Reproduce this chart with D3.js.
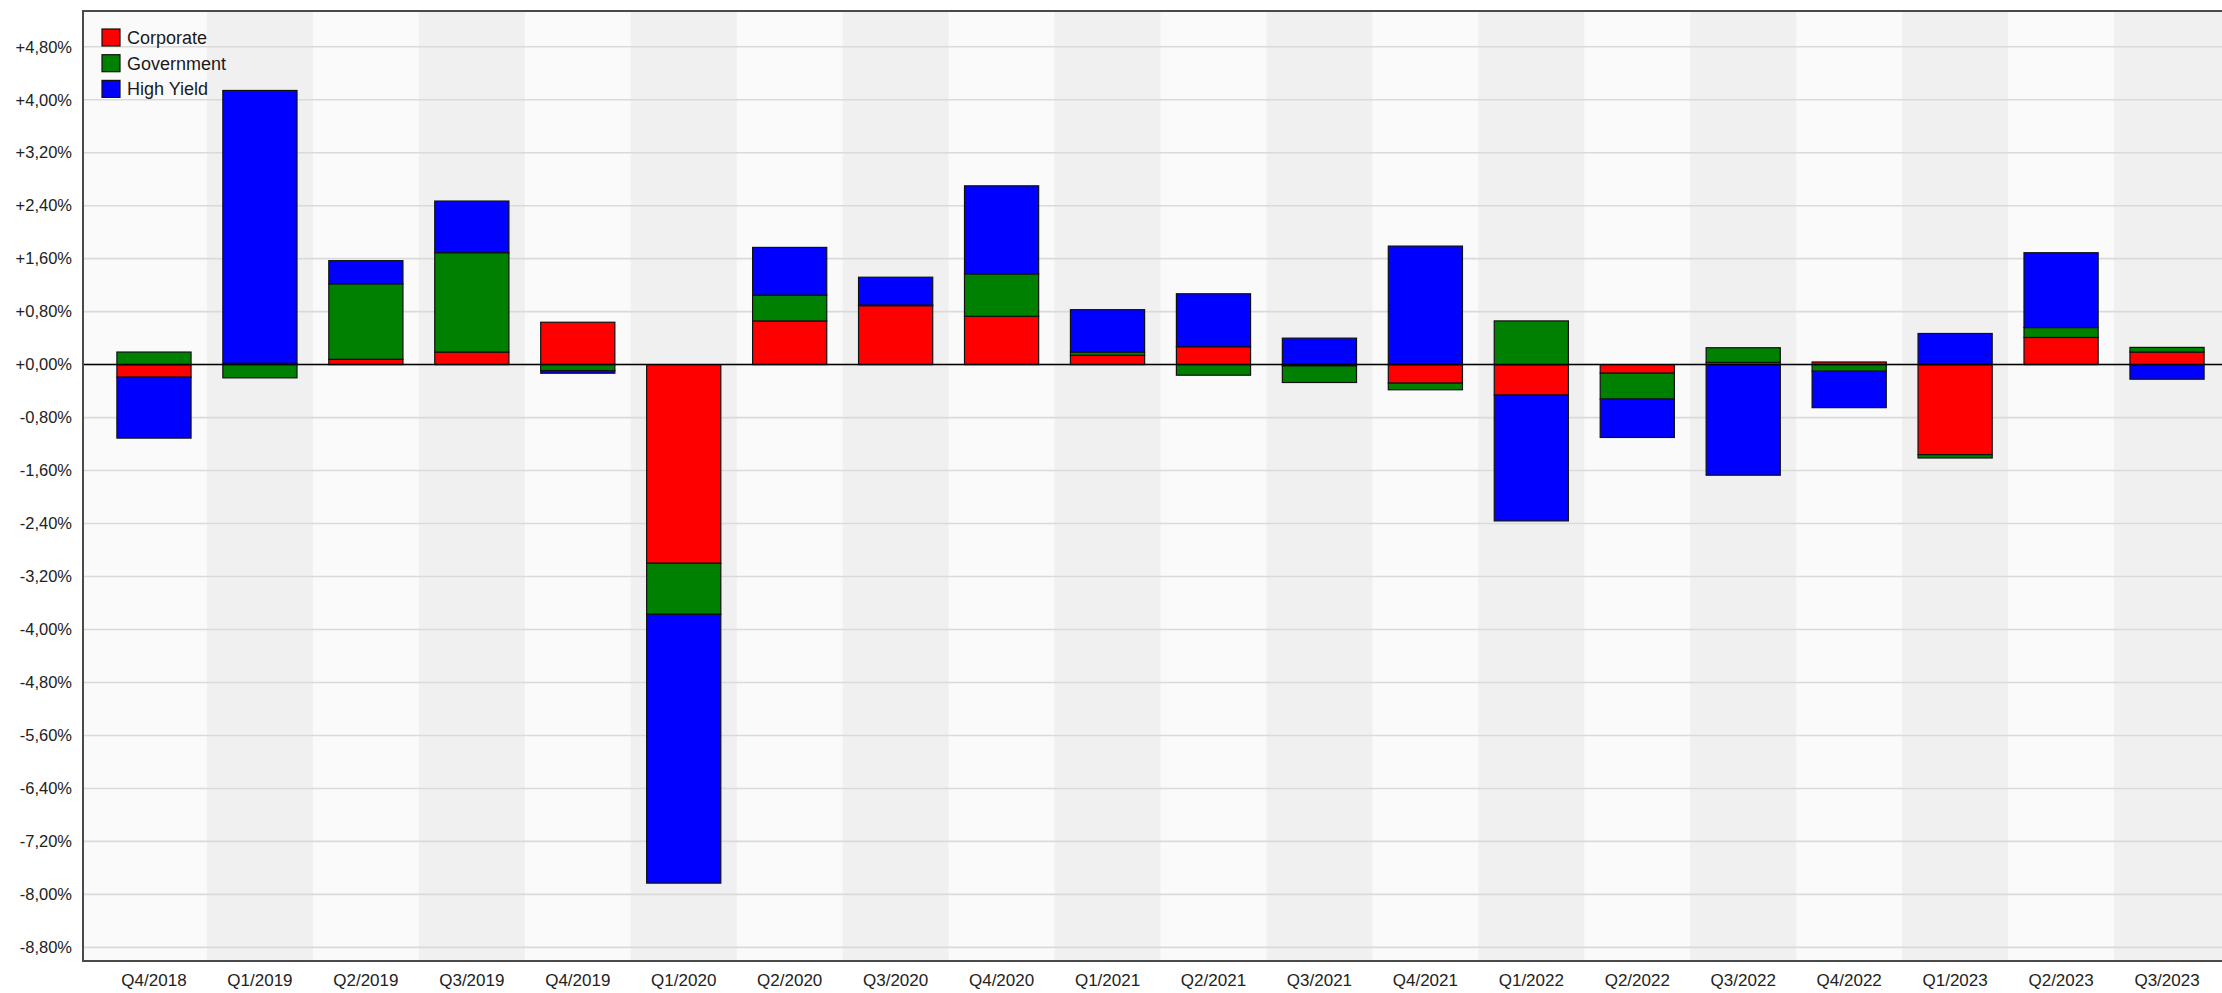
<!DOCTYPE html>
<html>
<head>
<meta charset="utf-8">
<script src="https://cdn.jsdelivr.net/npm/d3@7"></script>
<style>
  html, body { margin: 0; padding: 0; background: #fff; overflow: hidden; }
  svg { display: block; font-family: "Liberation Sans", Arial, sans-serif; }
</style>
</head>
<body>
<div id="chart"></div>
<script>
// quarters on the x axis
const categories = ["Q4/2018", "Q1/2019", "Q2/2019", "Q3/2019", "Q4/2019", "Q1/2020", "Q2/2020",
  "Q3/2020", "Q4/2020", "Q1/2021", "Q2/2021", "Q3/2021", "Q4/2021", "Q1/2022", "Q2/2022",
  "Q3/2022", "Q4/2022", "Q1/2023", "Q2/2023", "Q3/2023"];

// contributions in percent
const corporate = [-0.19, 0.02, 0.08, 0.19, 0.64, -3.00, 0.66, 0.89, 0.73, 0.14,
  0.27, -0.02, -0.28, -0.46, -0.13, 0.035, 0.04, -1.36, 0.41, 0.19];
const government = [0.19, -0.20, 1.14, 1.50, -0.09, -0.77, 0.39, 0.01, 0.64, 0.05,
  -0.16, -0.25, -0.10, 0.66, -0.39, 0.22, -0.10, -0.05, 0.15, 0.07];
const highYield = [-0.92, 4.12, 0.35, 0.78, -0.04, -4.06, 0.72, 0.42, 1.33, 0.64,
  0.80, 0.40, 1.79, -1.90, -0.58, -1.67, -0.55, 0.47, 1.13, -0.22];

const seriesNames = ["Corporate", "Government", "High Yield"];
const seriesColors = ["#ff0000", "#008000", "#0000ff"];

// y ticks every 0.8 %
const yTicks = d3.range(-11, 7).map(i => Math.round(i * 80) / 100);

const width = 2222, height = 993;
const plot = { left: 83, top: 11, right: 2222, bottom: 961 };

const svg = d3.select("#chart").append("svg")
  .attr("width", width)
  .attr("height", height);

// rows for the stack
const rows = categories.map((c, i) => ({
  cat: c,
  "Corporate": corporate[i],
  "Government": government[i],
  "High Yield": highYield[i]
}));

const stack = d3.stack()
  .keys(seriesNames)
  .offset(d3.stackOffsetDiverging);
const stacked = stack(rows);

const x = d3.scaleBand()
  .domain(categories)
  .range([101, 2220])
  .paddingInner(0)
  .paddingOuter(0);

const y = d3.scaleLinear()
  .domain([-9.006, 5.34])
  .range([plot.bottom, plot.top]);

const barW = x.bandwidth() * 0.7;

// plot background
svg.append("rect")
  .attr("x", plot.left).attr("y", plot.top)
  .attr("width", plot.right - plot.left).attr("height", plot.bottom - plot.top)
  .attr("fill", "#fafafa");

// alternating grey bands
svg.append("g").selectAll("rect")
  .data(categories.filter((d, i) => i % 2 === 1))
  .join("rect")
  .attr("x", d => x(d))
  .attr("y", plot.top)
  .attr("width", d => d === categories[categories.length - 1] ? plot.right - x(d) : x.bandwidth())
  .attr("height", plot.bottom - plot.top)
  .attr("fill", "#f0f0f0");

// grid lines
svg.append("g").selectAll("line")
  .data(yTicks)
  .join("line")
  .attr("x1", plot.left).attr("x2", plot.right)
  .attr("y1", d => y(d)).attr("y2", d => y(d))
  .attr("stroke", "#dadada")
  .attr("stroke-width", 1.6);

// y axis labels
function fmt(v) {
  const s = Math.abs(v).toFixed(2).replace(".", ",");
  return (v < 0 ? "-" : "+") + s + "%";
}
const yAxis = d3.axisLeft(y).tickValues(yTicks).tickFormat(fmt).tickSize(0).tickPadding(11);
const yg = svg.append("g")
  .attr("transform", `translate(${plot.left},0)`)
  .call(yAxis);
yg.select(".domain").remove();
yg.selectAll("text")
  .attr("font-size", 16.5)
  .attr("font-family", "Liberation Sans, Arial, sans-serif")
  .attr("fill", "#222");

// x axis labels
const xAxis = d3.axisBottom(x).tickSize(0).tickPadding(13);
const xg = svg.append("g")
  .attr("transform", `translate(0,${plot.bottom})`)
  .call(xAxis);
xg.select(".domain").remove();
xg.selectAll("text")
  .attr("font-size", 17)
  .attr("font-family", "Liberation Sans, Arial, sans-serif")
  .attr("fill", "#222");

// stacked bars
svg.append("g").selectAll("g")
  .data(stacked)
  .join("g")
  .attr("fill", (d, i) => seriesColors[i])
  .selectAll("rect")
  .data(d => d.filter(p => p[1] - p[0] !== 0))
  .join("rect")
  .attr("x", d => x(d.data.cat) + (x.bandwidth() - barW) / 2)
  .attr("y", d => y(Math.max(d[0], d[1])))
  .attr("width", barW)
  .attr("height", d => Math.abs(y(d[0]) - y(d[1])))
  .attr("stroke", "#111")
  .attr("stroke-width", 1.2);

// zero line
svg.append("line")
  .attr("x1", plot.left).attr("x2", plot.right)
  .attr("y1", y(0)).attr("y2", y(0))
  .attr("stroke", "#000")
  .attr("stroke-width", 1.5);

// plot frame: top, left, bottom (right side runs off the picture)
svg.append("path")
  .attr("d", `M${plot.right},${plot.top}H${plot.left}V${plot.bottom}H${plot.right}`)
  .attr("fill", "none")
  .attr("stroke", "#4a4a4a")
  .attr("stroke-width", 2);

// legend
const legend = svg.append("g").attr("transform", "translate(102,29)");
const item = legend.selectAll("g")
  .data(seriesNames)
  .join("g")
  .attr("transform", (d, i) => `translate(0,${i * 25.7})`);
item.append("rect")
  .attr("width", 18).attr("height", 17)
  .attr("fill", (d, i) => seriesColors[i])
  .attr("stroke", "#111")
  .attr("stroke-width", 1.2);
item.append("text")
  .attr("x", 25).attr("y", 8.5)
  .attr("dy", "0.35em")
  .attr("font-size", 18)
  .attr("fill", "#1a1a1a")
  .text(d => d);
</script>
</body>
</html>
